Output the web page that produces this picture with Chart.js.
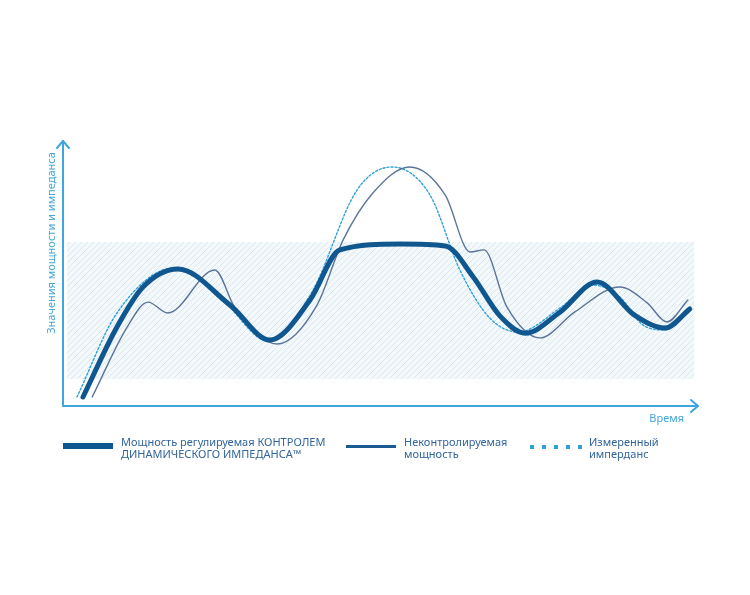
<!DOCTYPE html>
<html lang="ru">
<head>
<meta charset="utf-8">
<title>Мощность и импеданс</title>
<script src="https://cdn.jsdelivr.net/npm/chart.js@4.4.1/dist/chart.umd.min.js"></script>
<style>
    html, body { margin: 0; padding: 0; background: #ffffff; }
    #wrap { position: relative; width: 750px; height: 595px; }
    #chart { position: absolute; left: 0; top: 0; }
    .legend-swatch { position: absolute; }
    .legend-text {
        position: absolute;
        font-family: "Noto Sans", sans-serif;
        font-size: 11px;
        line-height: 12px;
        color: #33659a;
        white-space: pre-line;
    }
</style>
</head>
<body>
<div id="wrap">
    <canvas id="chart" width="750" height="595"></canvas>
    <div id="legend"></div>
</div>
<script>
// --- Data (time 0..100, value 0..100) ---
const controlledX = [3.15, 8.5, 12.6, 18.1, 26.3, 32.6, 38.9, 43.6, 53.1, 60.2, 64.6, 68.8, 72.8, 78.3, 84.1, 90.0, 94.8, 98.7];
const controlledY = [3.4, 29.8, 44.9, 51.7, 38.1, 24.9, 40.0, 58.9, 61.1, 60.4, 48.7, 34.0, 27.5, 35.5, 46.8, 34.3, 29.4, 36.6];

const uncontrolledX = [4.6, 10.1, 13.4, 16.5, 23.9, 27.1, 33.7, 40.0, 44.1, 48.8, 54.6, 60.2, 64.1, 66.3, 69.9, 75.1, 80.6, 87.7, 92.0, 95.1, 98.4];
const uncontrolledY = [3.4, 29.8, 39.2, 35.1, 51.3, 37.0, 23.4, 38.1, 62.6, 80.4, 90.2, 79.6, 58.1, 58.9, 37.4, 25.7, 35.5, 44.9, 38.9, 31.7, 40.0];

const impedanceX = [2.2, 8.5, 17.6, 25.5, 32.3, 39.2, 46.3, 51.8, 57.8, 62.5, 67.2, 71.7, 78.3, 83.3, 87.7, 91.3, 94.8, 98.4];
const impedanceY = [3.4, 35.1, 52.1, 38.9, 24.5, 43.0, 81.5, 90.2, 79.6, 51.3, 33.2, 27.9, 37.0, 45.7, 41.1, 30.6, 28.7, 35.1];

const seriesLabels = [
    'Мощность регулируемая КОНТРОЛЕМ\nДИНАМИЧЕСКОГО ИМПЕДАНСА™',
    'Неконтролируемая\nмощность',
    'Измеренный\nимперданс'
];
const axisTitleY = 'Значения мощности и импеданса';
const axisTitleX = 'Время';

// shaded band: [xFrom, xTo] and [yFrom, yTo] in data units
const bandX = [0.6, 99.4];
const bandY = [10.2, 61.9];

const AXIS_COLOR = '#3fa5dc';

function toPoints(xs, ys) {
    return xs.map((x, i) => ({ x: x, y: ys[i] }));
}

// diagonal hatch for the band
function makeHatch(ctx) {
    const c = document.createElement('canvas');
    c.width = 6; c.height = 6;
    const g = c.getContext('2d');
    g.fillStyle = '#f3f8fb';
    g.fillRect(0, 0, 6, 6);
    g.strokeStyle = 'rgba(185, 210, 228, 0.55)';
    g.lineWidth = 0.8;
    g.beginPath();
    g.moveTo(0, 6); g.lineTo(6, 0);
    g.moveTo(-1, 1); g.lineTo(1, -1);
    g.moveTo(5, 7); g.lineTo(7, 5);
    g.stroke();
    return ctx.createPattern(c, 'repeat');
}

const framePlugin = {
    id: 'frame',
    beforeDatasetsDraw(chart) {
        const { ctx, chartArea, scales } = chart;
        const x = scales.x, y = scales.y;

        // band
        ctx.save();
        ctx.fillStyle = makeHatch(ctx);
        const bx1 = x.getPixelForValue(bandX[0]);
        const bx2 = x.getPixelForValue(bandX[1]);
        const by1 = y.getPixelForValue(bandY[1]);
        const by2 = y.getPixelForValue(bandY[0]);
        ctx.fillRect(bx1, by1, bx2 - bx1, by2 - by1);
        ctx.restore();

        // axes with open arrow heads
        const l = chartArea.left, t = chartArea.top, r = chartArea.right, b = chartArea.bottom;
        ctx.save();
        ctx.strokeStyle = AXIS_COLOR;
        ctx.lineWidth = 2;
        ctx.lineCap = 'round';
        ctx.lineJoin = 'round';
        ctx.beginPath();
        ctx.moveTo(l, t);
        ctx.lineTo(l, b);
        ctx.lineTo(r, b);
        ctx.stroke();
        ctx.beginPath();
        ctx.moveTo(l - 6, t + 7); ctx.lineTo(l, t); ctx.lineTo(l + 6, t + 7);
        ctx.moveTo(r - 7, b - 6); ctx.lineTo(r, b); ctx.lineTo(r - 7, b + 6);
        ctx.stroke();

        // axis titles
        ctx.fillStyle = '#45a8dd';
        ctx.font = '11px "Noto Sans", sans-serif';
        ctx.textBaseline = 'alphabetic';
        ctx.textAlign = 'right';
        ctx.fillText(axisTitleX, r - 14, b + 16);
        ctx.translate(l - 8, t + 102);
        ctx.rotate(-Math.PI / 2);
        ctx.textAlign = 'center';
        ctx.fillText(axisTitleY, 0, 0);
        ctx.restore();
    }
};

const datasets = [
    {
        label: seriesLabels[0],
        data: toPoints(controlledX, controlledY),
        borderColor: '#10578f',
        borderWidth: 5,
        legendHeight: 6,
        order: 1
    },
    {
        label: seriesLabels[1],
        data: toPoints(uncontrolledX, uncontrolledY),
        borderColor: '#5b7599',
        legendColor: '#1b5a93',
        borderWidth: 1.4,
        legendHeight: 3,
        order: 2
    },
    {
        label: seriesLabels[2],
        data: toPoints(impedanceX, impedanceY),
        borderColor: '#2ea2d6',
        borderWidth: 1.4,
        borderDash: [2, 2],
        legendHeight: 4,
        legendDotted: true,
        order: 3
    }
].map(ds => Object.assign({
    fill: false,
    pointRadius: 0,
    cubicInterpolationMode: 'monotone',
    borderCapStyle: 'round'
}, ds));

const chart = new Chart(document.getElementById('chart'), {
    type: 'line',
    data: { datasets: datasets },
    options: {
        responsive: false,
        animation: false,
        layout: { padding: { left: 63, right: 52, top: 141, bottom: 189 } },
        scales: {
            x: { type: 'linear', min: 0, max: 100, display: false },
            y: { type: 'linear', min: 0, max: 100, display: false }
        },
        plugins: {
            legend: { display: false },
            tooltip: { enabled: false }
        }
    },
    plugins: [framePlugin]
});

// --- HTML legend built from the datasets ---
const legendSlots = [
    { swatchLeft: 63, textLeft: 121 },
    { swatchLeft: 346, textLeft: 404 },
    { swatchLeft: 530, textLeft: 589 }
];
const legendEl = document.getElementById('legend');
chart.data.datasets.forEach((ds, i) => {
    const slot = legendSlots[i];
    const sw = document.createElement('div');
    sw.className = 'legend-swatch';
    sw.style.left = slot.swatchLeft + 'px';
    sw.style.width = (ds.legendDotted ? 52 : 50) + 'px';
    sw.style.height = ds.legendHeight + 'px';
    sw.style.top = (446 - ds.legendHeight / 2 + (ds.legendDotted ? 1 : 0)) + 'px';
    const color = ds.legendColor || ds.borderColor;
    if (ds.legendDotted) {
        sw.style.background = `repeating-linear-gradient(90deg, ${color} 0 4px, transparent 4px 12px)`;
    } else {
        sw.style.background = color;
    }
    legendEl.appendChild(sw);

    const tx = document.createElement('div');
    tx.className = 'legend-text';
    tx.style.left = slot.textLeft + 'px';
    tx.style.top = '436px';
    tx.textContent = ds.label;
    legendEl.appendChild(tx);
});
</script>
</body>
</html>
